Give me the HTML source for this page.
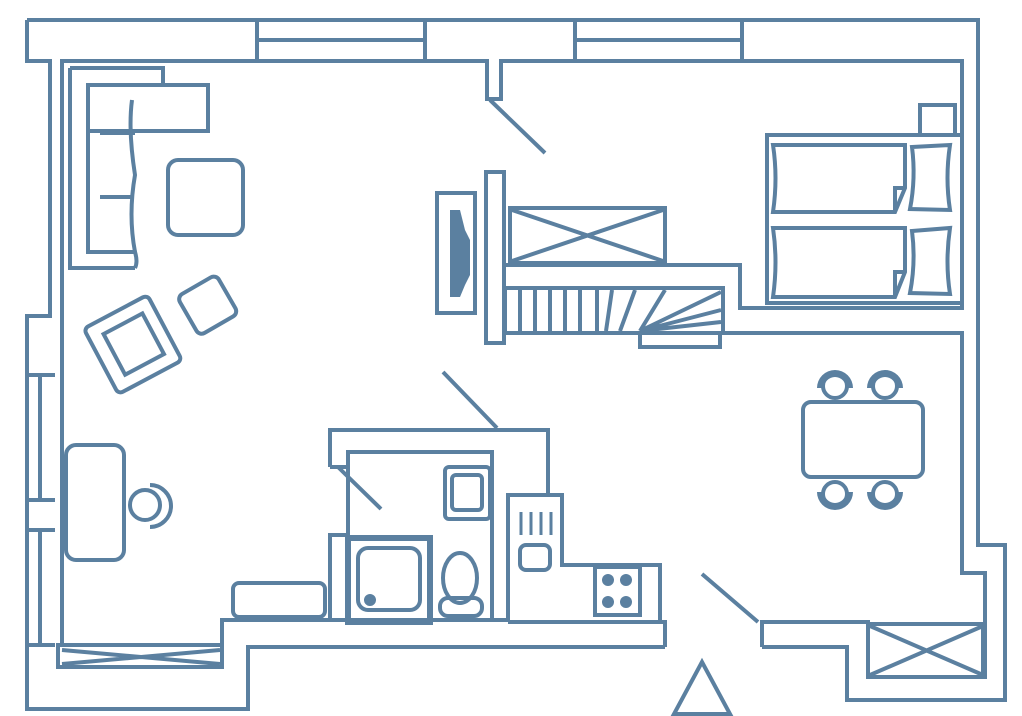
<!DOCTYPE html>
<html><head><style>html,body{margin:0;padding:0;background:#fff;}svg{display:block}</style></head>
<body>
<svg width="1022" height="716" viewBox="0 0 1022 716" xmlns="http://www.w3.org/2000/svg">
<g fill="none" stroke="#5b80a0" stroke-width="4" stroke-linejoin="miter">
<!-- outer wall -->
<path d="M27,20 H978 V545 H1005 V700 H847 V647 H762"/>
<path d="M665,647 H248 V709 H27 V316 H50 V61 H27 V20"/>
<!-- top windows -->
<path d="M257,20 V61 M425,20 V61 M257,40 H425"/>
<path d="M575,20 V61 M742,20 V61 M575,40 H742"/>
<!-- inner top -->
<path d="M62,645 V61 H487 V99 H501 V61 H962 V308 H740 V265 H503"/>
<!-- left windows -->
<path d="M27,375 H55 M27,500 H55 M27,530 H55 M27,645 H55 M40,375 V500 M40,530 V645"/>
<!-- bottom left window -->
<rect x="58" y="645" width="164" height="22"/>
<path d="M62,650 L220,664 M62,664 L220,650"/>
<path d="M222,667 V620 H330 V535 H348"/>
<!-- stair wall, right inner -->
<path d="M723,333 H962 V573 H985 V677 H868 V622 H762 V647"/>
<rect x="868" y="624" width="115" height="53"/>
<path d="M870,626 L983,675 M870,675 L983,626"/>
<!-- central wall + tv -->
<rect x="486" y="172" width="18" height="171"/>
<rect x="437" y="193" width="38" height="120"/>
<!-- wardrobe -->
<rect x="510" y="208" width="155" height="55"/>
<path d="M512,210 L663,261 M512,261 L663,210"/>
<!-- stairs -->
<rect x="505" y="288" width="218" height="45"/>
<path d="M520,290 V331 M535,290 V331 M550,290 V331 M565,290 V331 M580,290 V331 M597,290 V331 M612,290 L606,331 M635,290 L620,331 M665,290 L640,331 M721,292 L640,331 M721,310 L640,331 M721,322 L640,331"/>
<rect x="640" y="333" width="80" height="14"/>
<!-- beds -->
<rect x="767" y="135" width="195" height="168"/>
<rect x="920" y="105" width="35" height="30"/>
<path d="M773,145 H905 V188 L895,212 H773 Q778,178 773,145 Z M895,212 V188 H905"/>
<path d="M773,228 H905 V272 L895,297 H773 Q778,262 773,228 Z M895,297 V272 H905"/>
<path d="M912,147 L950,145 Q945,178 950,210 L910,209 Q916,178 912,147 Z"/>
<path d="M912,231 L950,228 Q945,262 950,294 L910,293 Q916,262 912,231 Z"/>
<!-- sofa -->
<path d="M70,68 H163 V85"/>
<path d="M70,68 V268 H135"/>
<rect x="88" y="85" width="120" height="46"/>
<path d="M88,131 V252 H135 Q138,262 135,268"/>
<path d="M132,100 Q128,130 135,175 Q128,215 135,252"/>
<path d="M100,133 H135 M100,197 H133"/>
<rect x="168" y="160" width="75" height="75" rx="10"/>
<!-- armchair & pouf -->
<g transform="rotate(-28 132 345)">
<rect x="97" y="308" width="72" height="74" rx="5"/>
<rect x="112" y="322" width="44" height="46"/>
</g>
<rect x="185" y="283" width="45" height="45" rx="6" transform="rotate(-30 207 305)"/>
<!-- desk + chair -->
<rect x="66" y="445" width="58" height="115" rx="10"/>
<circle cx="145" cy="505" r="15"/>
<path d="M150,485 A20,20 0 0 1 150,527" stroke-width="4"/>
<!-- bench -->
<rect x="233" y="583" width="92" height="34" rx="6"/>
<!-- bathroom -->
<path d="M330,620 H508 M330,620 V535 M348,622 V455"/>
<path d="M330,467 V430 H548 V495 M348,467 V452 H492 V622 M330,467 H348"/>
<rect x="348" y="538" width="82" height="84" stroke-width="6"/>
<rect x="358" y="548" width="62" height="62" rx="10"/>
<circle cx="370" cy="600" r="4" fill="#5b80a0"/>
<rect x="445" y="467" width="45" height="52" rx="4"/>
<rect x="452" y="475" width="30" height="35" rx="4"/>
<ellipse cx="460" cy="578" rx="17" ry="25"/>
<rect x="440" y="598" width="42" height="18" rx="8"/>
<!-- kitchen -->
<path d="M508,622 V495 H562 V565 H660 V622 H508 M508,622 H665 V647"/>
<rect x="520" y="545" width="30" height="25" rx="6"/>
<path d="M521,512 V535 M531,512 V535 M541,512 V535 M551,512 V535" stroke-width="3"/>
<rect x="595" y="567" width="45" height="48"/>
<!-- dining -->
<rect x="803" y="402" width="120" height="75" rx="8"/>
<circle cx="835" cy="386" r="12"/><circle cx="885" cy="386" r="12"/>
<circle cx="835" cy="494" r="12"/><circle cx="885" cy="494" r="12"/>
<!-- doors -->
<path d="M490,100 L545,153 M443,372 L497,428 M338,467 L381,509 M702,574 L758,622"/>
<!-- entry triangle -->
<path d="M702,662 L674,714 H730 Z"/>
</g>
<g fill="#5b80a0">
<path d="M450,210 H460 L465,230 L470,240 V275 L465,285 L460,297 H450 Z"/>
<circle cx="608" cy="580" r="6"/><circle cx="626" cy="580" r="6"/>
<circle cx="608" cy="602" r="6"/><circle cx="626" cy="602" r="6"/>
<path d="M817,388 A18,18 0 0 1 853,388 L846,388 A11,11 0 0 0 824,388 Z"/>
<path d="M867,388 A18,18 0 0 1 903,388 L896,388 A11,11 0 0 0 874,388 Z"/>
<path d="M817,492 A18,18 0 0 0 853,492 L846,492 A11,11 0 0 1 824,492 Z"/>
<path d="M867,492 A18,18 0 0 0 903,492 L896,492 A11,11 0 0 1 874,492 Z"/>
</g>
</svg>
</body></html>
